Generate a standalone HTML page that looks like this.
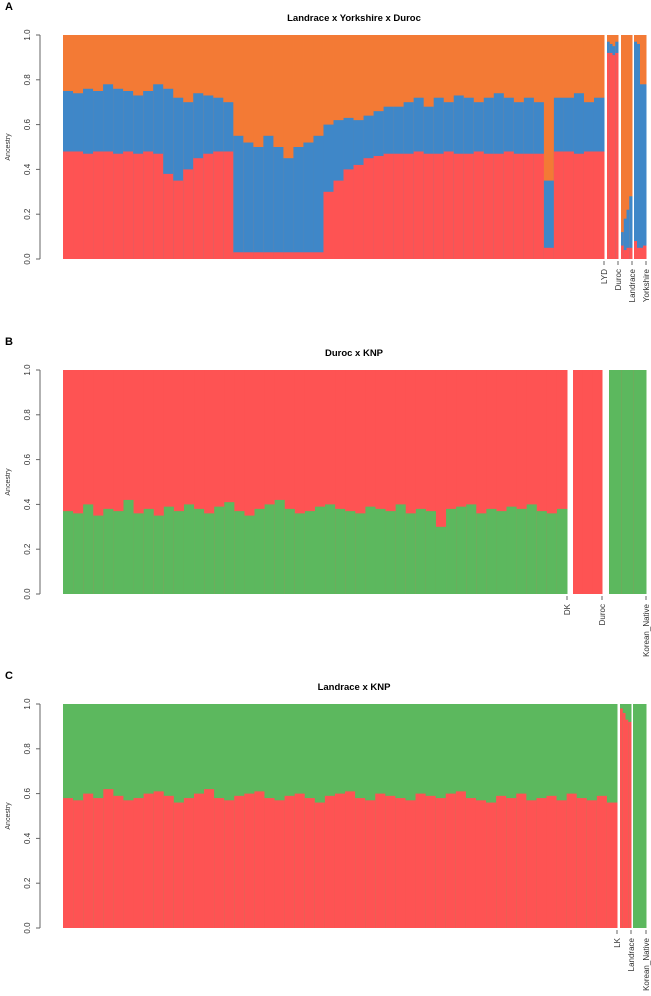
<!DOCTYPE html>
<html><head><meta charset="utf-8"><style>
body{margin:0;background:#fff}
svg{display:block;font-family:"Liberation Sans",sans-serif}
</style></head><body>
<svg id="chart" width="651" height="996"></svg>
<script>
// Panel A data (cumulative: red bottom, red+blue top; rest orange)
const aMainRed=[0.48,0.48,0.47,0.48,0.48,0.47,0.48,0.47,0.48,0.47,0.38,0.35,0.40,0.45,0.47,0.48,0.48,0.03,0.03,0.03,0.03,0.03,0.03,0.03,0.03,0.03,0.30,0.35,0.40,0.42,0.45,0.46,0.47,0.47,0.47,0.48,0.47,0.47,0.48,0.47,0.47,0.48,0.47,0.47,0.48,0.47,0.47,0.47,0.05,0.48,0.48,0.47,0.48,0.48];
const aMainBlue=[0.75,0.74,0.76,0.75,0.78,0.76,0.75,0.73,0.75,0.78,0.76,0.72,0.70,0.74,0.73,0.72,0.70,0.55,0.52,0.50,0.55,0.50,0.45,0.50,0.52,0.55,0.60,0.62,0.63,0.62,0.64,0.66,0.68,0.68,0.70,0.72,0.68,0.72,0.70,0.73,0.72,0.70,0.72,0.74,0.72,0.70,0.72,0.70,0.35,0.72,0.72,0.74,0.70,0.72];
const aDurocRed=[0.92,0.92,0.91,0.92],aDurocBlue=[0.97,0.96,0.95,0.97];
const aLandRed=[0.06,0.04,0.05,0.05],aLandBlue=[0.12,0.18,0.22,0.28];
const aYorkRed=[0.08,0.05,0.05,0.06],aYorkBlue=[0.97,0.96,0.78,0.78];
// Panel B (green bottom)
const bMainGreen=[0.37,0.36,0.40,0.35,0.38,0.37,0.42,0.36,0.38,0.35,0.39,0.37,0.40,0.38,0.36,0.39,0.41,0.37,0.35,0.38,0.40,0.42,0.38,0.36,0.37,0.39,0.40,0.38,0.37,0.36,0.39,0.38,0.37,0.40,0.36,0.38,0.37,0.30,0.38,0.39,0.40,0.36,0.38,0.37,0.39,0.38,0.40,0.37,0.36,0.38];
// Panel C (red bottom)
const cMainRed=[0.58,0.57,0.60,0.58,0.62,0.59,0.57,0.58,0.60,0.61,0.59,0.56,0.58,0.60,0.62,0.58,0.57,0.59,0.60,0.61,0.58,0.57,0.59,0.60,0.58,0.56,0.59,0.60,0.61,0.58,0.57,0.60,0.59,0.58,0.57,0.60,0.59,0.58,0.60,0.61,0.58,0.57,0.56,0.59,0.58,0.60,0.57,0.58,0.59,0.57,0.60,0.58,0.57,0.59,0.56];
const cLandRed=[0.98,0.96,0.93,0.92];
const ticks=[0,0.2,0.4,0.6,0.8,1.0];
const RED="#fe5353",ORANGE="#f37a35",BLUE="#3f87c8",GREEN="#5cb85e";
const svg=document.getElementById('chart');const NS="http://www.w3.org/2000/svg";
function el(t,a,p){const e=document.createElementNS(NS,t);for(const k in a)e.setAttribute(k,a[k]);(p||svg).appendChild(e);return e;}
function panel(letter,title,y0,y1,groups){
 const g=el('g',{});
 
 
 const ys=v=>y1-(y1-y0)*v;
 let t=el('text',{x:5,y:y0-25,'font-size':11,'font-weight':'bold'},g);t.textContent=letter;
 
 t=el('text',{x:354,y:y0-14,'font-size':9.5,'font-weight':'bold','text-anchor':'middle'},g);t.textContent=title;
 
 const ax=el('line',{x1:40,x2:40,y1:y0,y2:y1,stroke:'#666'},g);
 
 ticks.forEach(v=>{el('line',{x1:36,x2:40,y1:ys(v),y2:ys(v),stroke:'#666'},g);
  const tt=el('text',{x:0,y:0,'font-size':8,fill:'#333','text-anchor':'middle',transform:`translate(30,${ys(v)}) rotate(-90)`},g);tt.textContent=v.toFixed(1);
  });
 t=el('text',{x:0,y:0,'font-size':7,fill:'#333','text-anchor':'middle',transform:`translate(10,${(y0+y1)/2}) rotate(-90)`},g);t.textContent='Ancestry';
 
 groups.forEach(gr=>{
  const n=gr.layers[0].length,w=(gr.x1-gr.x0)/n;
  for(let i=0;i<n;i++){
   const x=gr.x0+i*w;
   el('rect',{x:x,y:y0,width:w+0.5,height:y1-y0,fill:gr.colors[gr.colors.length-1]},g);
   for(let L=gr.layers.length-1;L>=0;L--){
    const r=el('rect',{x:x,y:ys(gr.layers[L][i]),width:w+0.5,height:y1-ys(gr.layers[L][i]),fill:gr.colors[L]},g);
    
    
   }
  }
  el('line',{x1:gr.x1,x2:gr.x1,y1:y1+2,y2:y1+6,stroke:'#666'},g);
  const lt=el('text',{x:0,y:0,'font-size':8,fill:'#333','text-anchor':'end',transform:`translate(${gr.x1+3},${y1+10}) rotate(-90)`},g);lt.textContent=gr.label;
  
 });
}
panel('A','Landrace x Yorkshire x Duroc',35,259,[
 {x0:63,x1:604,layers:[aMainRed,aMainBlue],colors:[RED,BLUE,ORANGE],label:'LYD'},
 {x0:607,x1:618,layers:[aDurocRed,aDurocBlue],colors:[RED,BLUE,ORANGE],label:'Duroc'},
 {x0:621,x1:632,layers:[aLandRed,aLandBlue],colors:[RED,BLUE,ORANGE],label:'Landrace'},
 {x0:634,x1:646,layers:[aYorkRed,aYorkBlue],colors:[RED,BLUE,ORANGE],label:'Yorkshire'}]);
panel('B','Duroc x KNP',370,594,[
 {x0:63,x1:567,layers:[bMainGreen],colors:[GREEN,RED],label:'DK'},
 {x0:573,x1:602,layers:[[0,0,0]],colors:[GREEN,RED],label:'Duroc'},
 {x0:609,x1:646,layers:[[1,1,1]],colors:[GREEN,RED],label:'Korean_Native'}]);
panel('C','Landrace x KNP',704,928,[
 {x0:63,x1:617,layers:[cMainRed],colors:[RED,GREEN],label:'LK'},
 {x0:620,x1:631,layers:[cLandRed],colors:[RED,GREEN],label:'Landrace'},
 {x0:633,x1:646,layers:[[0,0,0]],colors:[RED,GREEN],label:'Korean_Native'}]);
</script>
</body></html>
